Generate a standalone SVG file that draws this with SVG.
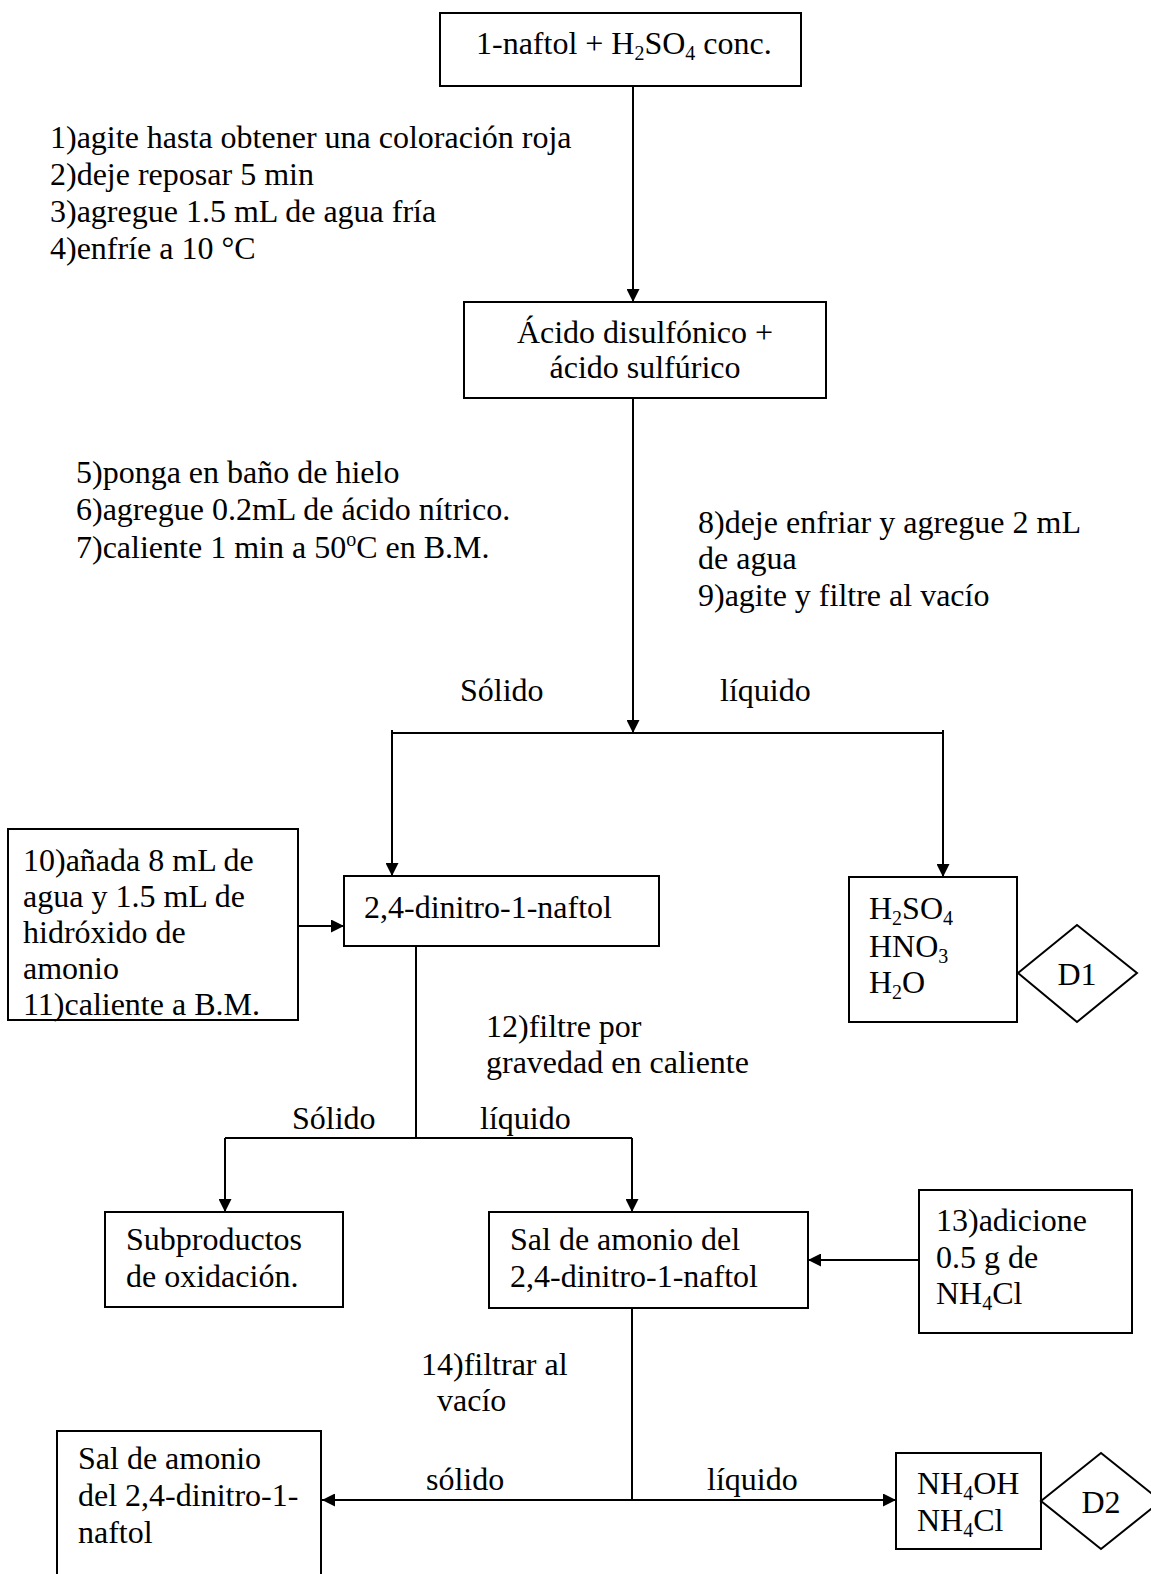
<svg xmlns="http://www.w3.org/2000/svg" width="1151" height="1574" viewBox="0 0 1151 1574">
<defs>
<style>
text{font-family:"Liberation Serif","Times New Roman",serif;font-size:32px;fill:#000}
.box{fill:#fff;stroke:#000;stroke-width:2}
.ln{fill:none;stroke:#000;stroke-width:2}
.c{text-anchor:middle}
</style>
<marker id="ah" viewBox="0 0 10 10" refX="10" refY="5" markerWidth="14" markerHeight="13" markerUnits="userSpaceOnUse" orient="auto"><path d="M0,0 L10,5 L0,10 z" fill="#000"/></marker>
</defs>
<rect width="1151" height="1574" fill="#fff"/>

<g id="connectors">
<path class="ln" d="M633,86 V302" marker-end="url(#ah)"/>
<path class="ln" d="M633,398 V733" marker-end="url(#ah)"/>
<path class="ln" d="M392,733 H943"/>
<path class="ln" d="M392,730 V876" marker-end="url(#ah)"/>
<path class="ln" d="M943,730 V877" marker-end="url(#ah)"/>
<path class="ln" d="M298,926 H344" marker-end="url(#ah)"/>
<path class="ln" d="M416,946 V1138 M225,1138 H632"/>
<path class="ln" d="M225,1138 V1212" marker-end="url(#ah)"/>
<path class="ln" d="M632,1138 V1212" marker-end="url(#ah)"/>
<path class="ln" d="M919,1260 H808" marker-end="url(#ah)"/>
<path class="ln" d="M632,1308 V1500"/>
<path class="ln" d="M632,1500 H322" marker-end="url(#ah)"/>
<path class="ln" d="M632,1500 H896" marker-end="url(#ah)"/>
</g>

<g id="labels">
<text x="50" y="148">1)agite hasta obtener una coloración roja</text>
<text x="50" y="185">2)deje reposar 5 min</text>
<text x="50" y="222">3)agregue 1.5 mL de agua fría</text>
<text x="50" y="259">4)enfríe a 10 °C</text>
<text x="76" y="483">5)ponga en baño de hielo</text>
<text x="76" y="520">6)agregue 0.2mL de ácido nítrico.</text>
<text x="76" y="558">7)caliente 1 min a 50<tspan dy="-12" font-size="20">o</tspan><tspan dy="12">C en B.M.</tspan></text>
<text x="698" y="533">8)deje enfriar y agregue 2 mL</text>
<text x="698" y="569">de agua</text>
<text x="698" y="606">9)agite y filtre al vacío</text>
<text x="460" y="701">Sólido</text>
<text x="720" y="701">líquido</text>
<text x="486" y="1037">12)filtre por</text>
<text x="486" y="1073">gravedad en caliente</text>
<text x="292" y="1129">Sólido</text>
<text x="480" y="1129">líquido</text>
<text x="421" y="1375">14)filtrar al</text>
<text x="437" y="1411">vacío</text>
<text x="426" y="1490">sólido</text>
<text x="707" y="1490">líquido</text>
</g>

<g id="n-naftol">
<rect class="box" x="440" y="13" width="361" height="73"/>
<text x="476" y="54">1-naftol + H<tspan dy="6" font-size="20">2</tspan><tspan dy="-6">SO</tspan><tspan dy="6" font-size="20">4</tspan><tspan dy="-6"> conc.</tspan></text>
</g>

<g id="n-disulfonico">
<rect class="box" x="464" y="302" width="362" height="96"/>
<text class="c" x="645" y="343">Ácido disulfónico +</text>
<text class="c" x="645" y="378">ácido sulfúrico</text>
</g>

<g id="n-paso10">
<rect class="box" x="8" y="829" width="290" height="191"/>
<text x="23" y="871">10)añada 8 mL de</text>
<text x="23" y="907">agua y 1.5 mL de</text>
<text x="23" y="943">hidróxido de</text>
<text x="23" y="979">amonio</text>
<text x="23" y="1015">11)caliente a B.M.</text>
</g>

<g id="n-dinitro">
<rect class="box" x="344" y="876" width="315" height="70"/>
<text x="364" y="918">2,4-dinitro-1-naftol</text>
</g>

<g id="n-acidos">
<rect class="box" x="849" y="877" width="168" height="145"/>
<text x="869" y="919">H<tspan dy="6" font-size="20">2</tspan><tspan dy="-6">SO</tspan><tspan dy="6" font-size="20">4</tspan></text>
<text x="869" y="957">HNO<tspan dy="6" font-size="20">3</tspan></text>
<text x="869" y="993">H<tspan dy="6" font-size="20">2</tspan><tspan dy="-6">O</tspan></text>
</g>

<g id="n-d1">
<polygon class="box" points="1018,973 1077,925 1137,973 1077,1022"/>
<text class="c" x="1077" y="985">D1</text>
</g>

<g id="n-subproductos">
<rect class="box" x="105" y="1212" width="238" height="95"/>
<text x="126" y="1250">Subproductos</text>
<text x="126" y="1287">de oxidación.</text>
</g>

<g id="n-sal">
<rect class="box" x="489" y="1212" width="319" height="96"/>
<text x="510" y="1250">Sal de amonio del</text>
<text x="510" y="1287">2,4-dinitro-1-naftol</text>
</g>

<g id="n-paso13">
<rect class="box" x="919" y="1190" width="213" height="143"/>
<text x="936" y="1231">13)adicione</text>
<text x="936" y="1268">0.5 g de</text>
<text x="936" y="1304">NH<tspan dy="6" font-size="20">4</tspan><tspan dy="-6">Cl</tspan></text>
</g>

<g id="n-sal-solido">
<rect class="box" x="57" y="1431" width="264" height="150"/>
<text x="78" y="1469">Sal de amonio</text>
<text x="78" y="1506">del 2,4-dinitro-1-</text>
<text x="78" y="1543">naftol</text>
</g>

<g id="n-liquido">
<rect class="box" x="896" y="1453" width="145" height="96"/>
<text x="917" y="1494">NH<tspan dy="6" font-size="20">4</tspan><tspan dy="-6">OH</tspan></text>
<text x="917" y="1531">NH<tspan dy="6" font-size="20">4</tspan><tspan dy="-6">Cl</tspan></text>
</g>

<g id="n-d2">
<polygon class="box" points="1041,1501 1101,1453 1161,1501 1101,1549"/>
<text class="c" x="1101" y="1513">D2</text>
</g>
</svg>
